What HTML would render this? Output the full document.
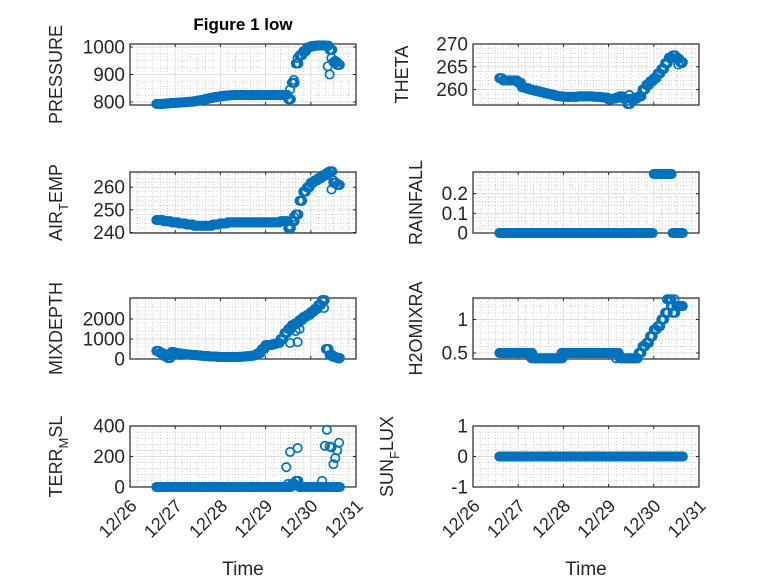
<!DOCTYPE html>
<html><head><meta charset="utf-8"><style>
html,body{margin:0;padding:0;background:#fff}
svg{display:block;font-family:"Liberation Sans",sans-serif}
</style></head><body>
<svg id="fig" width="778" height="583" viewBox="0 0 778 583" xmlns="http://www.w3.org/2000/svg">
<rect width="778" height="583" fill="#fff"/>
<text x="243" y="30" text-anchor="middle" font-size="17" font-weight="bold" fill="#000">Figure 1 low</text>
</svg>
<script>
// shared time axis (hours since 12/26 00:00)
const hours = [14,16,18,20,22,24,26,28,30,32,34,36,38,40,42,44,46,48,50,52,54,56,58,60,62,64,66,68,70,72,74,76,78,80,82,84,86,88,90,92,94,96,98,100,102,104,106,108,110];
const xTickLabels = ["12/26","12/27","12/28","12/29","12/30","12/31"];

const pressureVals = [793,793,794,795,796,797,798,799,800,801,803,805,808,811,814,817,819,821,823,824,825,825,825,825,825,825,825,825,825,825,825,825,825,825,826,810,870,940,970,985,998,1003,1005,1006,1006,1005,990,945,935];
const pressureExtraT = [85,87,89,105,106,107,109,110,111];
const pressureExtraV = [845,880,960,930,900,960,950,945,935];

const thetaVals = [262.5,262,262,262,262,261.5,260.5,260.3,260,259.8,259.6,259.4,259.2,259,258.8,258.6,258.5,258.4,258.4,258.4,258.4,258.5,258.5,258.5,258.5,258.4,258.4,258.3,258.2,257.8,258,258.2,258.5,258,256.8,258,258.2,258.5,260,261,261.8,262.5,263.5,264.5,265.8,267,267.5,266.8,266];
const thetaExtraT = [83,85,87,109,111];
const thetaExtraV = [258.8,257.5,258,265.5,265.8];

const airTempVals = [245.5,245.5,245,245,244.5,244.5,244,244,243.5,243.5,243,243,243,243,243,243.5,243.5,244,244,244.5,244.5,244.5,244.5,244.5,244.5,244.5,244.5,244.5,244.5,244.5,244.5,244.5,244.5,245,245,242,245,248,254,258,260,262,263,264,265,266,267,262,261];
const airTempExtraT = [85,87,105,107,108,109,111];
const airTempExtraV = [243,247,266.5,259,263,262,261];

const rainVals = [0,0,0,0,0,0,0,0,0,0,0,0,0,0,0,0,0,0,0,0,0,0,0,0,0,0,0,0,0,0,0,0,0,0,0,0,0,0,0,0,0,0.3,0.3,0.3,0.3,0.3,0,0,0];
const rainExtraT = [95,97,105,106.5,111];
const rainExtraV = [0,0.3,0.3,0,0];

const mixVals = [400,300,150,50,350,300,280,250,230,210,200,180,160,150,130,120,110,100,100,100,100,100,110,120,140,160,200,300,500,700,700,750,800,1000,1300,1500,1700,1800,1950,2100,2200,2350,2500,2700,2950,500,200,100,50];
const mixExtraT = [85,89,88,90,103,107,109,111];
const mixExtraV = [800,850,1400,1500,2550,150,80,20];

const h2oVals = [0.5,0.5,0.5,0.5,0.5,0.5,0.5,0.5,0.5,0.42,0.42,0.42,0.42,0.42,0.42,0.42,0.42,0.5,0.5,0.5,0.5,0.5,0.5,0.5,0.5,0.5,0.5,0.5,0.5,0.5,0.5,0.5,0.42,0.42,0.42,0.42,0.42,0.5,0.6,0.65,0.75,0.85,0.9,1.0,1.1,1.3,1.1,1.2,1.2];
const h2oExtraT = [31,47,76,77,103,105,106,107,109,111];
const h2oExtraV = [0.42,0.5,0.42,0.5,1.3,1.2,1.2,1.3,1.2,1.2];

const terrVals = [0,0,0,0,0,0,0,0,0,0,0,0,0,0,0,0,0,0,0,0,0,0,0,0,0,0,0,0,0,0,0,0,0,0,0,0,20,40,0,0,0,0,0,0,0,0,0,0,0];
const terrExtraT = [83,84,85,87,89,102,103.5,104.5,106,107,108,109,110,111];
const terrExtraV = [130,20,230,10,255,40,270,375,265,260,150,190,240,290];

const sunVals = [0,0,0,0,0,0,0,0,0,0,0,0,0,0,0,0,0,0,0,0,0,0,0,0,0,0,0,0,0,0,0,0,0,0,0,0,0,0,0,0,0,0,0,0,0,0,0,0,0];
const sunExtraT = [111];
const sunExtraV = [0];

const NS="http://www.w3.org/2000/svg";
const svg=document.getElementById('fig');
function mk(tag,attrs,parent){const e=document.createElementNS(NS,tag);for(const k in attrs)e.setAttribute(k,attrs[k]);(parent||svg).appendChild(e);return e;}

const panels=[
 {name:'pressure',label:['PRESSURE'],x:130,y:44,ymin:789,ymax:1011,ticks:[800,900,1000],minor:25,vals:pressureVals,et:pressureExtraT,ev:pressureExtraV,lx:62},
 {name:'theta',label:['THETA'],x:473,y:44,ymin:256.6,ymax:270,ticks:[260,265,270],minor:1,vals:thetaVals,et:thetaExtraT,ev:thetaExtraV,lx:408},
 {name:'air-temp',label:['AIR','T','EMP'],x:130,y:172,ymin:239.8,ymax:266.7,ticks:[240,250,260],minor:2,vals:airTempVals,et:airTempExtraT,ev:airTempExtraV,lx:62},
 {name:'rainfall',label:['RAINFALL'],x:473,y:172,ymin:0,ymax:0.31,ticks:[0,0.1,0.2],minor:0.02,vals:rainVals,et:rainExtraT,ev:rainExtraV,lx:422},
 {name:'mixdepth',label:['MIXDEPTH'],x:130,y:298,ymin:0,ymax:3050,ticks:[0,1000,2000],minor:200,vals:mixVals,et:mixExtraT,ev:mixExtraV,lx:62},
 {name:'h2omixra',label:['H2OMIXRA'],x:473,y:298,ymin:0.41,ymax:1.32,ticks:[0.5,1],minor:0.1,vals:h2oVals,et:h2oExtraT,ev:h2oExtraV,lx:422},
 {name:'terr-msl',label:['TERR','M','SL'],x:130,y:426,ymin:0,ymax:400,ticks:[0,200,400],minor:40,vals:terrVals,et:terrExtraT,ev:terrExtraV,lx:62,xl:true},
 {name:'sun-flux',label:['SUN','F','LUX'],x:473,y:426,ymin:-1,ymax:1,ticks:[-1,0,1],minor:0.2,vals:sunVals,et:sunExtraT,ev:sunExtraV,lx:393,xl:true}
];
const W=226,H=61,DAYS=5;
panels.forEach(p=>{
  const g=mk('g',{});
  
  
  const xs=h=>p.x+h/24/DAYS*W;
  const ys=v=>p.y+H-(v-p.ymin)/(p.ymax-p.ymin)*H;
  for(let h=0;h<=DAYS*24;h+=4){ if(h%24===0)continue;
    const l=mk('line',{x1:xs(h),x2:xs(h),y1:p.y,y2:p.y+H,stroke:'#b8b8b8','stroke-width':0.6,'stroke-dasharray':'1,2'},g);
    
    }
  const start=Math.ceil(p.ymin/p.minor);
  for(let k=start;k*p.minor<=p.ymax;k++){const v=k*p.minor;const yy=ys(v);
    const l=mk('line',{x1:p.x,x2:p.x+W,y1:yy,y2:yy,stroke:'#b8b8b8','stroke-width':0.6,'stroke-dasharray':'1,2'},g);
    
    }
  for(let d=1;d<DAYS;d++){
    const l=mk('line',{x1:xs(d*24),x2:xs(d*24),y1:p.y,y2:p.y+H,stroke:'#dedede','stroke-width':1},g);
    
    }
  p.ticks.forEach(v=>{const yy=ys(v);
    const l=mk('line',{x1:p.x,x2:p.x+W,y1:yy,y2:yy,stroke:'#dedede','stroke-width':1},g);
    
    
    mk('line',{x1:p.x,x2:p.x+3,y1:yy,y2:yy,stroke:'#262626'},g);
    mk('line',{x1:p.x+W-3,x2:p.x+W,y1:yy,y2:yy,stroke:'#262626'},g);
    const t=mk('text',{x:p.x-5,y:yy+6.5,'text-anchor':'end','font-size':19,fill:'#262626'},g);
    
    
    t.textContent=String(v);});
  for(let d=0;d<=DAYS;d++){const xx=xs(d*24);
    mk('line',{x1:xx,x2:xx,y1:p.y+H,y2:p.y+H-3,stroke:'#262626'},g);
    mk('line',{x1:xx,x2:xx,y1:p.y,y2:p.y+3,stroke:'#262626'},g);
    if(p.xl){const t=mk('text',{x:0,y:0,'text-anchor':'end','font-size':18,fill:'#262626',transform:`translate(${xx+8},${p.y+H+20}) rotate(-45)`},g);
      
      
      t.textContent=xTickLabels[d];}}
  const box=mk('rect',{x:p.x,y:p.y,width:W,height:H,fill:'none',stroke:'#262626','stroke-width':1.2},g);
  
  
  const cy=p.y+H/2;
  const lab=mk('text',{x:0,y:0,'text-anchor':'middle','font-size':18,fill:'#262626',transform:`translate(${p.lx},${cy}) rotate(-90)`},g);
  
  
  if(p.label.length===1){lab.textContent=p.label[0];}
  else{const a=mk('tspan',{},lab);a.textContent=p.label[0];
    const b=mk('tspan',{dy:6,'font-size':13},lab);b.textContent=p.label[1];
    const c=mk('tspan',{dy:-6},lab);c.textContent=p.label[2];}
  const mg=mk('g',{fill:'none',stroke:'#0072BD','stroke-width':1.7},g);
  
  
  const plot=(h,v)=>{const c=mk('circle',{cx:xs(h),cy:ys(v),r:4.2},mg);
    
    };
  hours.forEach((h,i)=>{plot(h,p.vals[i]);plot(h+0.7,p.vals[i]);plot(h+1.4,p.vals[i]);});
  p.et.forEach((h,i)=>plot(h,p.ev[i]));
  if(p.xl){const t=mk('text',{x:p.x+W/2,y:575,'text-anchor':'middle','font-size':19,fill:'#262626'},g);
    
    
    t.textContent='Time';}
});
</script>
</body></html>
